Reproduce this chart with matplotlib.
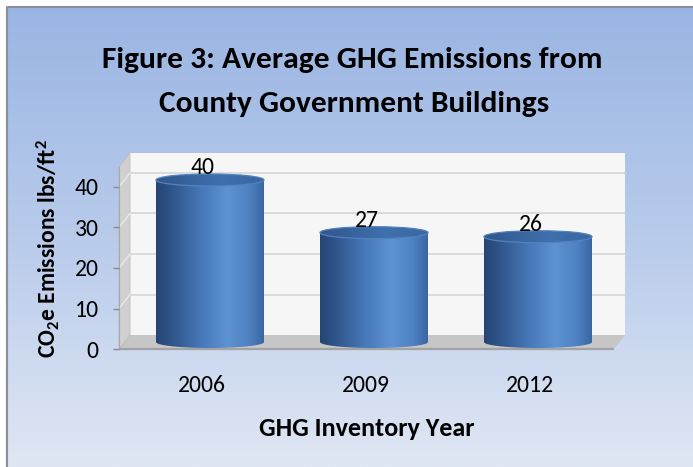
import numpy as np
import matplotlib
matplotlib.use('Agg')
import matplotlib.pyplot as plt
from matplotlib.patches import Polygon, Ellipse, PathPatch
from matplotlib.path import Path
from matplotlib import font_manager
from matplotlib.colors import LinearSegmentedColormap

# ---------------- data ----------------
years = ['2006', '2009', '2012']
values = [40, 27, 26]
yticks = [0, 10, 20, 30, 40]
ymax = 45
title_line1 = 'Figure 3: Average GHG Emissions from'
title_line2 = 'County Government Buildings'
xlabel = 'GHG Inventory Year'
ylabel = r'CO$\mathregular{_2}$e Emissions lbs/ft$\mathregular{^2}$'

# ---------------- fonts ----------------
avail = {f.name for f in font_manager.fontManager.ttflist}
FONT = next((f for f in ['Carlito', 'Lato', 'Open Sans', 'DejaVu Sans'] if f in avail), 'DejaVu Sans')
plt.rcParams['font.family'] = [FONT, 'DejaVu Sans']
plt.rcParams['mathtext.default'] = 'regular'

W, H = 693, 467
fig = plt.figure(figsize=(W / 100, H / 100), dpi=100)
fig.patch.set_facecolor('white')

# ---------------- background frame ----------------
bg = fig.add_axes([0, 0, 1, 1])
bg.set_xlim(0, W)
bg.set_ylim(H, 0)
bg.axis('off')
bg_cmap = LinearSegmentedColormap.from_list(
    'bg', [(0, '#9ab5e3'), (0.5, '#b8cbeb'), (1, '#e0e7f4')])
bg.imshow(np.linspace(0, 1, 256).reshape(-1, 1), cmap=bg_cmap, aspect='auto',
          extent=(6, W, H, 6), zorder=0)
bg.plot([6.5, 6.5], [H, 6.5], color='#8e8e9a', lw=1.5, zorder=1, solid_capstyle='butt')
bg.plot([6.5, W], [6.5, 6.5], color='#8e8e9a', lw=1.5, zorder=1, solid_capstyle='butt')
bg.set_xlim(0, W)
bg.set_ylim(H, 0)

# ---------------- main axes (front plane) ----------------
fx0, fx1 = 119, 614          # front plane left/right in px
fy0 = 349                    # value 0 in px (from top)
ppu = 4.05                   # px per value unit
cat_px = 164.0               # px per category
cat0_px = 202.0              # px of first category (front plane)
ax_h = ymax * ppu
ax = fig.add_axes([fx0 / W, (H - fy0) / H, (fx1 - fx0) / W, ax_h / H])
ax.patch.set_alpha(0)
x0 = (fx0 - cat0_px) / cat_px
x1 = (fx1 - cat0_px) / cat_px
dx = 11 / cat_px
dy = 14 / ppu

# walls
back = Polygon([(x0 + dx, dy), (x1 + dx, dy), (x1 + dx, ymax + dy), (x0 + dx, ymax + dy)],
               closed=True, fc='#f6f6f6', ec='none', zorder=1, clip_on=False)
ax.add_patch(back)
side = Polygon([(x0, 0), (x0 + dx, dy), (x0 + dx, ymax + dy), (x0, ymax)],
               closed=True, fc='#d0d0d0', ec='#bdbdbd', lw=0.6, zorder=1.2, clip_on=False)
ax.add_patch(side)
floor = Polygon([(x0, 0), (x1, 0), (x1 + dx, dy), (x0 + dx, dy)],
                closed=True, fc='#c6c6c6', ec='none', zorder=1.1, clip_on=False)
ax.add_patch(floor)
ax.plot([x0, x1], [0, 0], color='#a3a3a3', lw=1.6, zorder=1.3, clip_on=False,
        solid_capstyle='butt')
for v in yticks[1:]:
    ax.plot([x0 + dx, x1 + dx], [v + dy, v + dy], color='#d6d6d6', lw=1.2, zorder=1.05, clip_on=False)
    ax.plot([x0, x0 + dx], [v, v + dy], color='#e9e9e9', lw=1.0, zorder=1.25, clip_on=False)

# cylinders
body_cmap = LinearSegmentedColormap.from_list(
    'body', [(0, '#264572'), (0.12, '#2e5287'), (0.45, '#4a7cbd'),
             (0.66, '#5d92d3'), (0.86, '#4f82c2'), (1, '#3a66a2')])
top_cmap = LinearSegmentedColormap.from_list(
    'top', [(0, '#30568c'), (0.6, '#4070ad'), (1, '#3a66a1')])
grad = np.linspace(0, 1, 256).reshape(1, -1)
bw = 108 / cat_px
eh = 12 / ppu
base = dy / 2
bar_off = 8 / cat_px
for i, v in enumerate(values):
    cx = i + bar_off
    left, right = cx - bw / 2, cx + bw / 2
    top = base + v
    th = np.linspace(np.pi, 2 * np.pi, 80)
    ex = cx + (bw / 2) * np.cos(th)
    ey = base + (eh / 2) * np.sin(th)
    verts = [(left, top)] + list(zip(ex, ey)) + [(right, top), (left, top)]
    codes = [Path.MOVETO] + [Path.LINETO] * (len(verts) - 2) + [Path.CLOSEPOLY]
    clip = PathPatch(Path(verts, codes), fc='none', ec='none', transform=ax.transData)
    ax.add_patch(clip)
    im = ax.imshow(grad, cmap=body_cmap, extent=(left, right, base - eh / 2, top),
                   aspect='auto', origin='lower', zorder=3)
    im.set_clip_path(clip)
    el = Ellipse((cx, top), bw, eh, fc='none', ec='none', transform=ax.transData)
    ax.add_patch(el)
    imt = ax.imshow(grad, cmap=top_cmap, extent=(left, right, top - eh / 2, top + eh / 2),
                    aspect='auto', origin='lower', zorder=4)
    imt.set_clip_path(el)
    ax.add_patch(Ellipse((cx, top), bw, eh, fc='none', ec='#5282bf', lw=0.9, zorder=4.5))
    ax.text(i + 1 / cat_px, v + 4.8, str(v), ha='center', va='center', fontsize=17,
            color='black', zorder=6)

ax.set_xlim(x0, x1)
ax.set_ylim(0, ymax)
ax.set_yticks(yticks)
ax.set_yticklabels([str(t) for t in yticks])
ax.set_xticks(range(len(years)))
ax.set_xticklabels(years)
ax.tick_params(axis='y', direction='out', length=4.5, width=1, color='#8a8a8a',
               pad=10, labelsize=17)
ax.tick_params(axis='x', length=0, pad=19, labelsize=17)
for s in ['top', 'right', 'bottom']:
    ax.spines[s].set_visible(False)
ax.spines['left'].set_color('#a8a8a8')
ax.spines['left'].set_zorder(1.4)

# ---------------- texts ----------------
def px(x, y):
    return x / W, 1 - y / H

t1 = fig.text(*px(352, 60), title_line1, ha='center', va='center', fontsize=20, fontweight='bold')
t2 = fig.text(*px(354, 104), title_line2, ha='center', va='center', fontsize=20, fontweight='bold')
tx = fig.text(*px(367, 428), xlabel, ha='center', va='center', fontsize=15, fontweight='bold')
ty = fig.text(*px(48, 249), ylabel, ha='center', va='center', rotation=90, fontsize=15,
              fontweight='bold')

renderer = fig.canvas.get_renderer()
def fit(t, target, vertical=False):
    bb = t.get_window_extent(renderer=renderer)
    cur = bb.height if vertical else bb.width
    t.set_fontsize(t.get_fontsize() * target / cur)

fit(t1, 500)
fit(t2, 390)
fit(tx, 216)
fit(ty, 220, vertical=True)

fig.savefig('out.png', dpi=100, facecolor='white')
